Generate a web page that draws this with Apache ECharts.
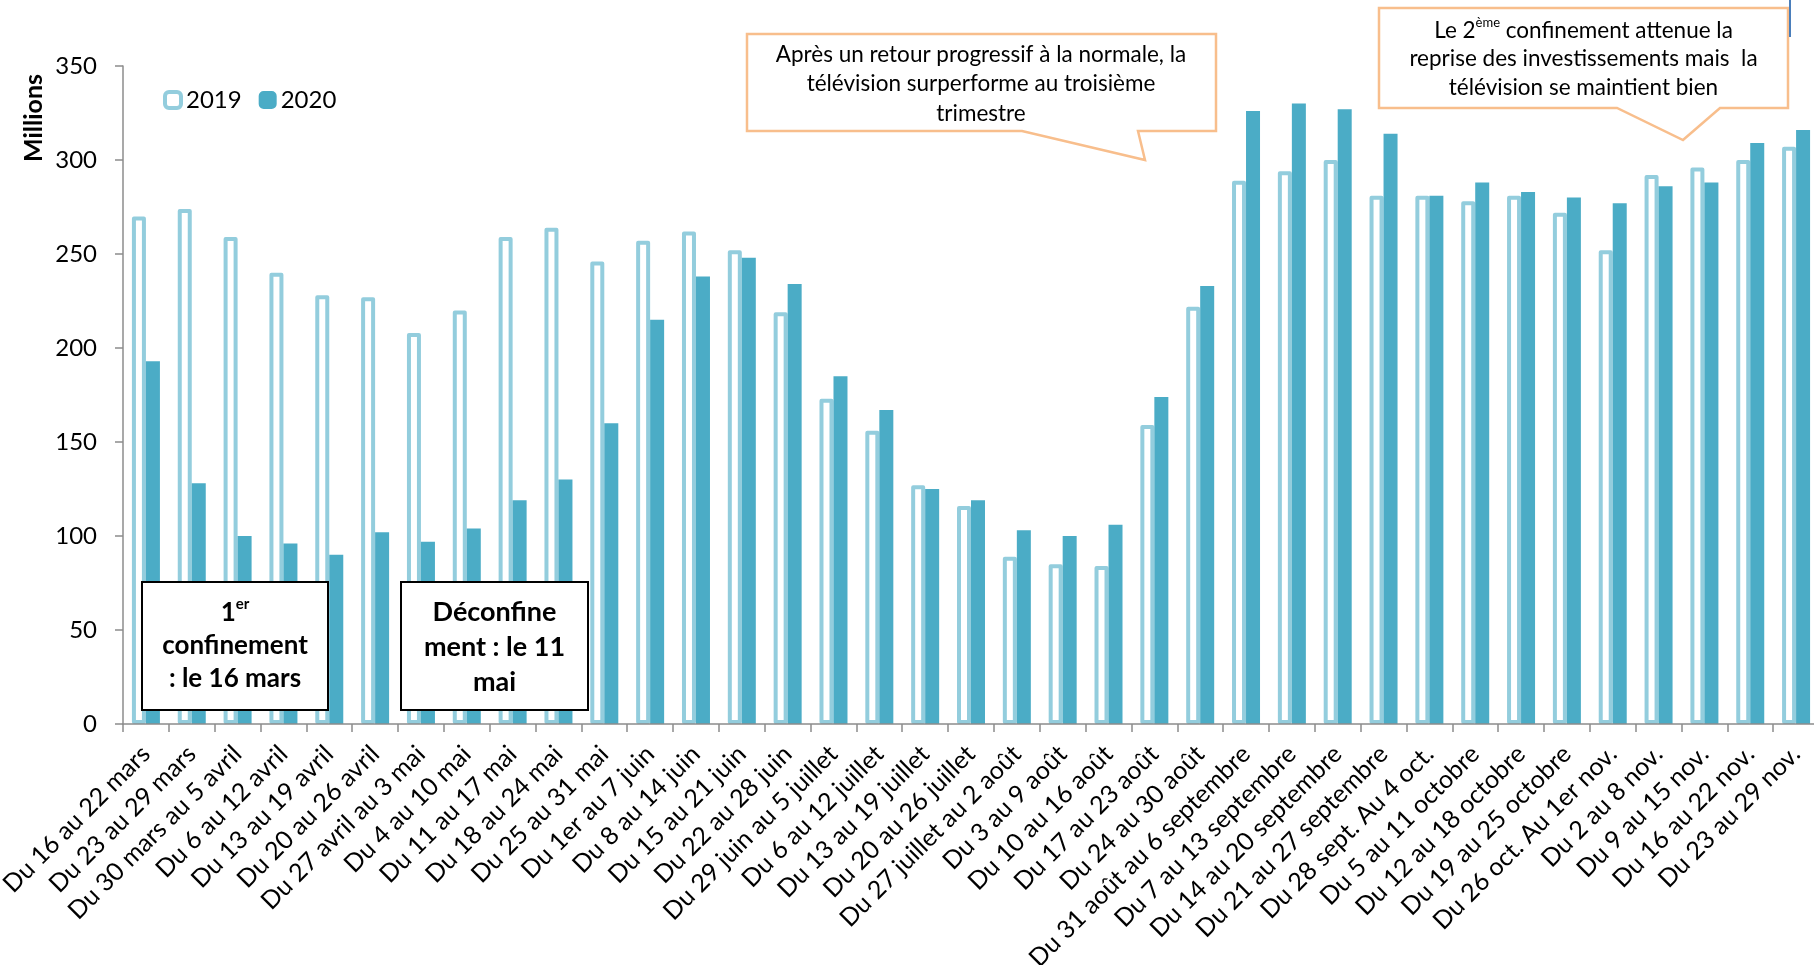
<!DOCTYPE html>
<html>
<head>
<meta charset="utf-8">
<title>Investissements publicitaires TV hebdomadaires 2019 / 2020</title>
<script src="https://cdn.jsdelivr.net/npm/echarts@6.0.0/dist/echarts.min.js"></script>
<style>
  html, body { margin: 0; padding: 0; background: #ffffff; }
  #chart { width: 1814px; height: 965px; }
</style>
</head>
<body>
<div id="chart"></div>
<script>
// Weekly periods (x axis categories)
const weeks = [
  'Du 16 au 22 mars', 'Du 23 au 29 mars', 'Du 30 mars au 5 avril', 'Du 6 au 12 avril',
  'Du 13 au 19 avril', 'Du 20 au 26 avril', 'Du 27 avril au 3 mai', 'Du 4 au 10 mai',
  'Du 11 au 17 mai', 'Du 18 au 24 mai', 'Du 25 au 31 mai', 'Du 1er au 7 juin',
  'Du 8 au 14 juin', 'Du 15 au 21 juin', 'Du 22 au 28 juin', 'Du 29 juin au 5 juillet',
  'Du 6 au 12 juillet', 'Du 13 au 19 juillet', 'Du 20 au 26 juillet', 'Du 27 juillet au 2 août',
  'Du 3 au 9 août', 'Du 10 au 16 août', 'Du 17 au 23 août', 'Du 24 au 30 août',
  'Du 31 août au 6 septembre', 'Du 7 au 13 septembre', 'Du 14 au 20 septembre', 'Du 21 au 27 septembre',
  'Du 28 sept. Au 4 oct.', 'Du 5 au 11 octobre', 'Du 12 au 18 octobre', 'Du 19 au 25 octobre',
  'Du 26 oct. Au 1er nov.', 'Du 2 au 8 nov.', 'Du 9 au 15 nov.', 'Du 16 au 22 nov.',
  'Du 23 au 29 nov.'
];

// Spend in millions, same week of the previous year
const spend2019 = [
  270, 274, 259, 240, 228, 227, 208, 220, 259, 264,
  246, 257, 262, 252, 219, 173, 156, 127, 116, 89,
  85, 84, 159, 222, 289, 294, 300, 281, 281, 278,
  281, 272, 252, 292, 296, 300, 307
];

// Spend in millions, 2020
const spend2020 = [
  193, 128, 100, 96, 90, 102, 97, 104, 119, 130,
  160, 215, 238, 248, 234, 185, 167, 125, 119, 103,
  100, 106, 174, 233, 326, 330, 327, 314, 281, 288,
  283, 280, 277, 286, 288, 309, 316
];

// Value axis range
const yMin = 0;
const yMax = 350;
const yStep = 50;

const FONT = 'Lato, "Open Sans", "Noto Sans", sans-serif';
const C2019 = '#93CDDD';
const C2020 = '#4BACC6';
const AXIS = '#8C8C8C';
const CALLOUT = '#F8BE8C';

const chart = echarts.init(document.getElementById('chart'), null, { renderer: 'canvas' });

// Speech-bubble outline: box with a pointer leaving its bottom edge
function bubble(x0, y0, x1, y1, baseL, baseR, tipX, tipY) {
  return [[x0, y0], [x1, y0], [x1, y1], [baseR, y1], [tipX, tipY], [baseL, y1], [x0, y1]];
}

chart.setOption({
  animation: false,
  backgroundColor: '#ffffff',
  textStyle: { fontFamily: FONT },
  grid: {
    left: 123, top: 66, width: 1696, height: 658,
    containLabel: false,
    outerBoundsMode: 'none'
  },
  legend: {
    left: 158,
    top: 83,
    itemWidth: 16,
    itemHeight: 16,
    itemGap: 17,
    textStyle: { fontSize: 24, color: '#000', fontFamily: FONT },
    data: [
      { name: '2019', icon: 'roundRect', itemStyle: { color: '#fff', borderColor: C2019, borderWidth: 4 } },
      { name: '2020', icon: 'roundRect', itemStyle: { color: C2020, borderColor: C2020, borderWidth: 2 } }
    ]
  },
  xAxis: {
    type: 'category',
    data: weeks,
    z: 5,
    axisLine: { show: true, lineStyle: { color: AXIS, width: 1.5 } },
    axisTick: { show: true, length: 8, lineStyle: { color: AXIS, width: 1.5 } },
    axisLabel: {
      interval: 0,
      rotate: 45,
      margin: 26,
      fontSize: 25,
      color: '#000',
      fontFamily: FONT
    },
    splitLine: { show: false }
  },
  yAxis: {
    type: 'value',
    min: yMin,
    max: yMax,
    interval: yStep,
    z: 5,
    axisLine: { show: true, lineStyle: { color: AXIS, width: 1.5 } },
    axisTick: { show: true, length: 8, lineStyle: { color: AXIS, width: 1.5 } },
    axisLabel: { margin: 26, fontSize: 24, color: '#000', fontFamily: FONT },
    splitLine: { show: false }
  },
  series: [
    {
      name: '2019',
      type: 'bar',
      data: spend2019,
      barWidth: 14,
      barGap: '0%',
      z: 2,
      emphasis: { disabled: true },
      itemStyle: { color: '#ffffff', borderColor: C2019, borderWidth: 4, borderJoin: 'round' }
    },
    {
      name: '2020',
      type: 'bar',
      data: spend2020,
      barWidth: 14,
      barGap: '0%',
      z: 3,
      emphasis: { disabled: true },
      itemStyle: { color: C2020 }
    }
  ],
  graphic: [
    // Axis title
    {
      type: 'text', x: 34, y: 118, rotation: Math.PI / 2, z: 50,
      style: { text: 'Millions', font: 'bold 25px ' + FONT, fill: '#000', align: 'center', verticalAlign: 'middle' }
    },
    // First lockdown box
    {
      type: 'rect', z: 50,
      shape: { x: 142, y: 582, width: 186, height: 128 },
      style: { fill: '#fff', stroke: '#000', lineWidth: 2 }
    },
    {
      type: 'text', x: 235, y: 646, z: 51,
      style: {
        text: '{b|1}{s|er}\n{b|confinement}\n{b|: le 16 mars}',
        align: 'center', verticalAlign: 'middle', fill: '#000',
        rich: {
          b: { font: 'bold 26px ' + FONT, lineHeight: 33, fill: '#000' },
          s: { font: 'bold 15px ' + FONT, lineHeight: 16, verticalAlign: 'top', fill: '#000' }
        }
      }
    },
    // End of lockdown box
    {
      type: 'rect', z: 50,
      shape: { x: 401, y: 582, width: 187, height: 128 },
      style: { fill: '#fff', stroke: '#000', lineWidth: 2 }
    },
    {
      type: 'text', x: 494.5, y: 647, z: 51,
      style: {
        text: 'Déconfine\nment : le 11\nmai',
        font: 'bold 27px ' + FONT, lineHeight: 35,
        align: 'center', verticalAlign: 'middle', fill: '#000'
      }
    },
    // Third quarter callout
    {
      type: 'polygon', z: 50,
      shape: { points: bubble(747, 34, 1216, 131, 1022, 1138, 1145, 160) },
      style: { fill: '#fff', stroke: CALLOUT, lineWidth: 2.5, lineJoin: 'miter' }
    },
    {
      type: 'text', x: 981, y: 84, z: 51,
      style: {
        text: 'Après un retour progressif à la normale, la\ntélévision surperforme au troisième\ntrimestre',
        font: '22.5px ' + FONT, lineHeight: 29.5,
        align: 'center', verticalAlign: 'middle', fill: '#000'
      }
    },
    // Second lockdown callout
    {
      type: 'polygon', z: 50,
      shape: { points: bubble(1379, 8, 1788, 108, 1617, 1720, 1683, 140) },
      style: { fill: '#fff', stroke: CALLOUT, lineWidth: 2.5, lineJoin: 'miter' }
    },
    {
      type: 'text', x: 1583.5, y: 59, z: 51,
      style: {
        text: '{r|Le 2}{s|ème}{r| confinement attenue la}\n{r|reprise des investissements mais  la}\n{r|télévision se maintient bien}',
        align: 'center', verticalAlign: 'middle', fill: '#000',
        rich: {
          r: { font: '22.5px ' + FONT, lineHeight: 28.5, fill: '#000' },
          s: { font: '13px ' + FONT, lineHeight: 14, verticalAlign: 'top', fill: '#000' }
        }
      }
    },
    // Thin blue marker at the top right edge
    {
      type: 'line', z: 50,
      shape: { x1: 1790, y1: 0, x2: 1790, y2: 37 },
      style: { stroke: '#4A7EBB', lineWidth: 2 }
    }
  ]
});
</script>
</body>
</html>
